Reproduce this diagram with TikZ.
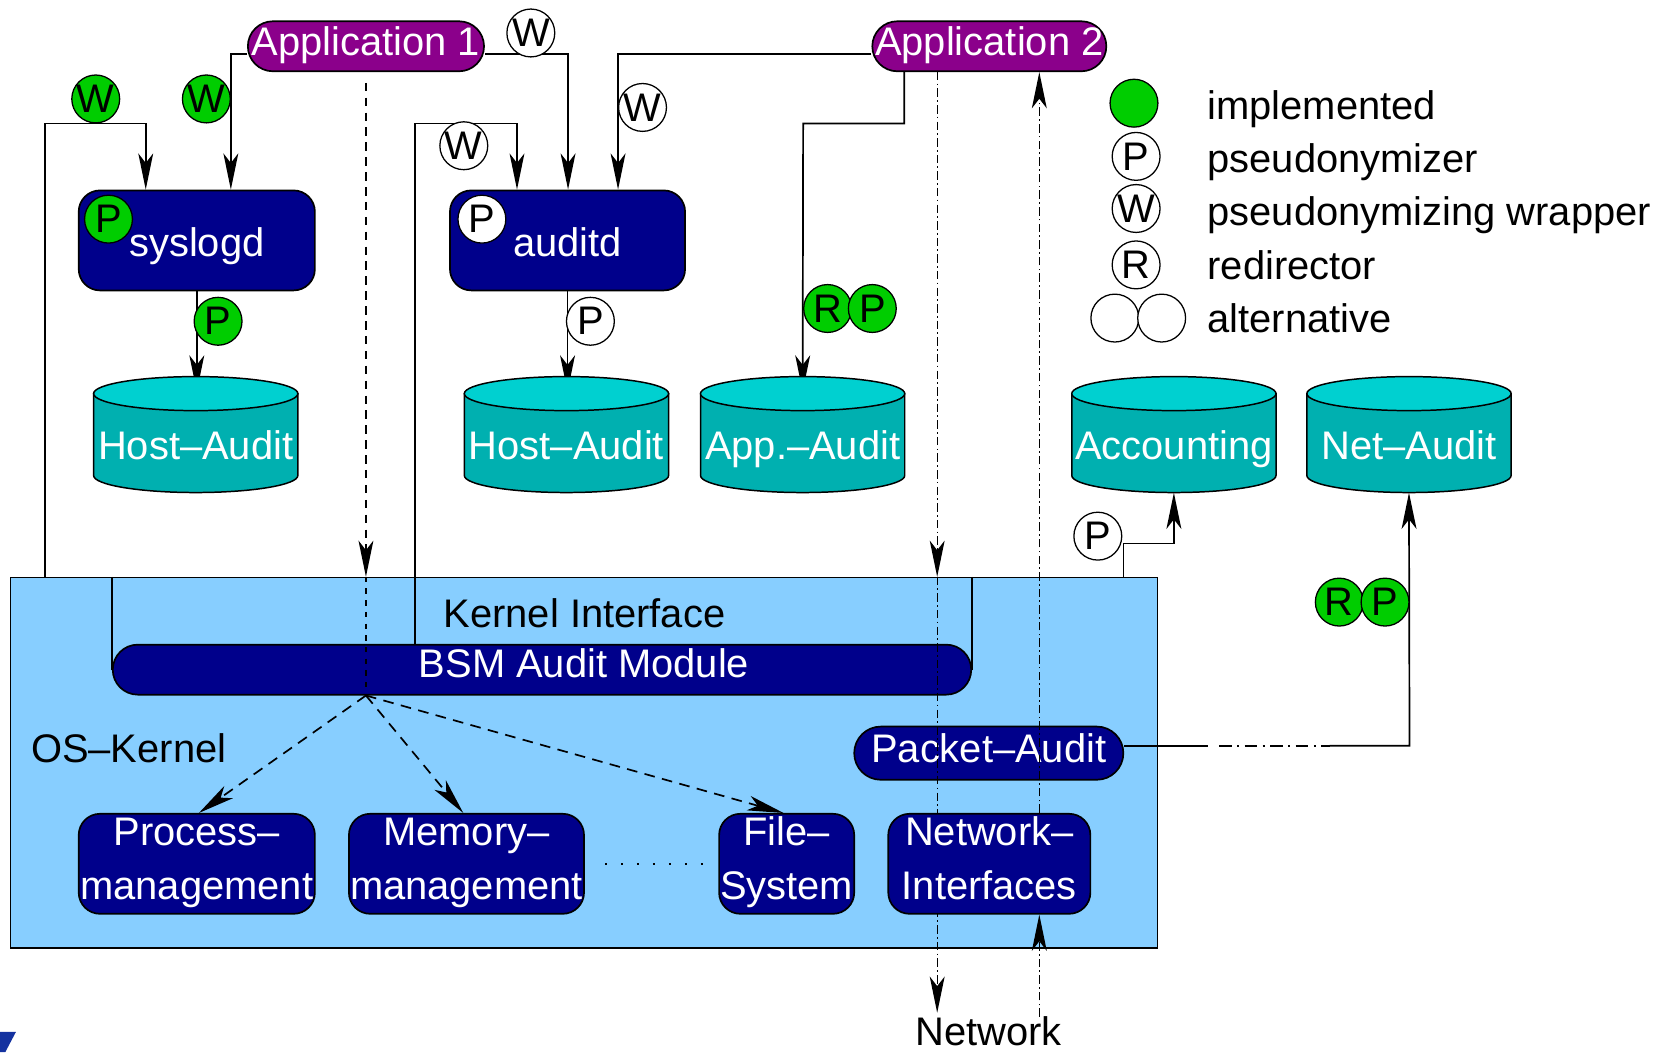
\documentclass[tikz,border=0pt]{standalone}
\usepackage{fontspec}
\setmainfont{Liberation Sans}
\usetikzlibrary{arrows.meta}
\pgfdeclarelayer{background}
\pgfsetlayers{background,main}

\definecolor{appviolet}{RGB}{139,0,139}
\definecolor{navy}{RGB}{0,0,139}
\definecolor{cyltop}{RGB}{0,208,208}
\definecolor{cylbody}{RGB}{0,176,176}
\definecolor{kernelblue}{RGB}{135,206,255}
\definecolor{okgreen}{RGB}{0,205,0}
\definecolor{logoblue}{RGB}{20,50,160}

\newcommand\figfont{\fontsize{37.5}{50}\selectfont}

% audit store drawn as a cylinder: name, centre x, label
\newcommand\drum[3]{%
  \path[draw=black, line width=1.4pt, fill=cylbody]
    (#2-96,370) -- (#2-96,447)
    arc[start angle=180, end angle=0, x radius=96, y radius=16]
    -- (#2+96,370) -- cycle;
  \path[draw=black, line width=1.4pt, fill=cyltop]
    (#2,370) ellipse [x radius=96, y radius=16];
  \node[inner sep=0, minimum width=192pt, minimum height=109pt] (#1) at (#2,408.5) {};
  \coordinate (#1-in) at (#2,368);
  \node[lbl] (#1-t) at (#2,432) {#3};
}

\begin{document}
\begin{tikzpicture}[x=1pt, y=-1pt,
  ln/.style={line width=1.6pt},
  flow/.style={ln, -{Stealth[length=34pt,width=14pt,inset=9pt]}},
  dashflow/.style={flow, dash pattern=on 8pt off 6pt},
  dashdot/.style={dash pattern=on 8pt off 3pt on 1.6pt off 3pt},
  box/.style={draw, line width=1.6pt, fill=navy, rounded corners=20pt, inner sep=0},
  pill/.style={draw, line width=1.6pt, rounded corners=23.5pt, inner sep=0},
  lbl/.style={text=white, font=\figfont, inner sep=0, anchor=base},
  txt/.style={text=black, font=\figfont, inner sep=0},
  badge/.style={circle, draw, line width=1.2pt, minimum size=45pt, inner sep=0, font=\figfont},
]
\useasboundingbox (0,0) rectangle (1568,989);

% ---------- OS kernel frame ----------
\begin{pgfonlayer}{background}
  \node[draw, line width=1.6pt, fill=kernelblue, minimum width=1078pt,
        minimum height=348pt, inner sep=0] (kbox) at (549,717) {};
\end{pgfonlayer}

% ---------- applications ----------
\node[pill, fill=appviolet, minimum width=222pt, minimum height=47pt] (app1) at (344,43.5) {};
\node[lbl] (app1-t) at (344,52) {Application 1};
\node[pill, fill=appviolet, minimum width=220pt, minimum height=47pt] (app2) at (930,43.5) {};
\node[lbl] (app2-t) at (930,52) {Application 2};

% ---------- daemons ----------
\node[box, minimum width=222pt, minimum height=94pt] (sys) at (185,226) {};
\node[lbl] (sys-t) at (185,241) {syslogd};
\node[box, minimum width=221pt, minimum height=94pt] (aud) at (533.5,226) {};
\node[lbl] (aud-t) at (533.5,241) {auditd};

% ---------- audit stores ----------
\drum{ha1}{184}{Host–Audit}
\drum{ha2}{532.5}{Host–Audit}
\drum{appaud}{754.5}{App.–Audit}
\drum{acc}{1103.5}{Accounting}
\drum{net}{1324.5}{Net–Audit}

% ---------- kernel parts ----------
\node[txt, anchor=base] (kif) at (549.5,590) {Kernel Interface};
\node[pill, fill=navy, minimum width=807pt, minimum height=47pt] (bsm) at (509.5,629.5) {};
\node[lbl] (bsm-t) at (549,637) {BSM Audit Module};
\node[txt, anchor=base] (osk) at (121,717) {OS–Kernel};
\node[pill, fill=navy, minimum width=253pt, minimum height=50pt, rounded corners=25pt] (pa) at (929.5,708) {};
\node[lbl] (pa-t) at (929.5,717) {Packet–Audit};

\node[box, minimum width=222pt, minimum height=94pt] (proc) at (185,812) {};
\node[lbl] (proc-t1) at (185,795) {Process–};
\node[lbl] (proc-t2) at (185,846) {management};
\node[box, minimum width=221pt, minimum height=94pt] (mem) at (438.5,812) {};
\node[lbl] (mem-t1) at (438.5,795) {Memory–};
\node[lbl] (mem-t2) at (438.5,846) {management};
\node[box, minimum width=127pt, minimum height=94pt] (file) at (739.5,812) {};
\node[lbl] (file-t1) at (739.5,795) {File–};
\node[lbl] (file-t2) at (739.5,846) {System};

\node[txt, anchor=base] (netw) at (929.5,983) {Network};

% ---------- bend points ----------
\coordinate (b1) at (42,116);
\coordinate (b2) at (137,116);
\coordinate (b3) at (217,51);
\coordinate (b5) at (534,51);
\coordinate (b6) at (390,116);
\coordinate (b7) at (486,116);
\coordinate (b8) at (581,51);
\coordinate (b9) at (850,116);
\coordinate (b10) at (755,116);
\coordinate (ac) at (1056,511);
\coordinate (nb) at (1325,701);
\coordinate (m1) at (1136,701);
\coordinate (m2) at (1146,701);
\coordinate (m3) at (1250,701);
\coordinate (dn) at (881,67.5);
\coordinate (dnb) at (881,952);
\coordinate (up) at (977,956);

% ---------- solid record flows ----------
\begin{pgfonlayer}{background}
  \draw[ln] (bsm.west |- kbox.north) -- (bsm.west);
  \draw[ln] (bsm.east |- kbox.north) -- (bsm.east);
  \draw[flow] (kbox.north -| b1) -- (b1) -- (b2) -- (b2 |- sys.north);
  \draw[flow] (b3 -| app1.west) -- (b3) -- (b3 |- sys.north);
  \draw[flow] (b5 -| app1.east) -- (b5) -- (b5 |- aud.north);
  \draw[flow] (bsm.north -| b6) -- (b6) -- (b7) -- (b7 |- aud.north);
  \draw[flow] (b8 -| app2.west) -- (b8) -- (b8 |- aud.north);
  \draw[flow] (app2.south -| b9) -- (b9) -- (b10) -- (appaud-in);
  \draw[flow] (sys.south) -- (sys.south |- ha1-in);
  \draw[flow] (aud.south) -- (aud.south |- ha2-in);
  \draw[flow] (kbox.north -| ac) -- (ac) -- (ac -| acc.south) -- (acc.south);
  \draw[ln] (nb -| pa.east) -- (m1);
  \draw[ln, dash pattern=on 12pt off 5pt on 2pt off 5pt] (m2) -- (m3);
  \draw[flow] (m3) -- (nb) -- (net.south);
\end{pgfonlayer}

% ---------- kernel calls ----------
\draw[dashflow, shorten <=10pt] (app1.south) -- (app1.south |- kbox.north);
\draw[line width=1.2pt, dash pattern=on 5pt off 6pt] (app1.south |- kbox.north) -- (app1.south |- bsm.south);
\coordinate (fan) at (app1.south |- bsm.south);
\draw[flow, dash pattern=on 10pt off 7pt] (fan) -- ([xshift=2pt]proc.north);
\draw[flow, dash pattern=on 10pt off 7pt] (fan) -- ([xshift=-3pt]mem.north);
\draw[flow, dash pattern=on 10pt off 7pt] (fan) -- ([xshift=-3pt]file.north);
\draw[ln, dash pattern=on 2pt off 13pt] ([xshift=19pt]mem.east) -- ([xshift=-14pt]file.west);

% ---------- outgoing network traffic (runs behind the interfaces box) ----------
\draw[flow, dashdot, line width=1.3pt] (dn) -- (dn |- kbox.north);
\draw[flow, dashdot, line width=1.3pt] (dn |- kbox.north) -- (dnb);

\node[box, minimum width=190pt, minimum height=94pt] (nif) at (930,812) {};
\node[lbl] (nif-t1) at (930,795) {Network–};
\node[lbl] (nif-t2) at (930,846) {Interfaces};

% ---------- incoming network traffic ----------
\draw[flow, dashdot, line width=1.3pt] (up) -- (up |- nif.south);
\draw[flow, dashdot, line width=1.3pt] (up |- nif.north) -- (up |- app2.south);

% ---------- pseudonymizing components ----------
\node[badge, fill=okgreen] (w1) at (90,93) {W};
\node[badge, fill=okgreen] (w2) at (194,93) {W};
\node[badge, fill=white] (w3) at (499,31) {W};
\node[badge, fill=white] (w4) at (436,137) {W};
\node[badge, fill=white] (w5) at (604,101) {W};
\node[badge, fill=okgreen] (p1) at (102,206) {P};
\node[badge, fill=white] (p2) at (453,206) {P};
\node[badge, fill=okgreen] (p3) at (205,302) {P};
\node[badge, fill=white] (p4) at (555,302) {P};
\node[badge, fill=okgreen] (r1) at (778,290) {R};
\node[badge, fill=okgreen] (p5) at (820,290) {P};
\node[badge, fill=white] (p6) at (1032,504) {P};
\node[badge, fill=okgreen] (r2) at (1259,566) {R};
\node[badge, fill=okgreen] (p7) at (1302,566) {P};

% ---------- legend ----------
\node[badge, fill=okgreen] (lg-c1) at (1066,97) {};
\node[badge, fill=white] (lg-c2) at (1068,147) {P};
\node[badge, fill=white] (lg-c3) at (1068,196) {W};
\node[badge, fill=white] (lg-c4) at (1068,249) {R};
\node[badge, fill=white] (lg-c5) at (1048,299) {};
\node[badge, fill=white] (lg-c6) at (1092,299) {};
\node[txt, anchor=base west] (lg-t1) at (1135,112) {implemented};
\node[txt, anchor=base west] (lg-t2) at (1135,162) {pseudonymizer};
\node[txt, anchor=base west] (lg-t3) at (1135,212) {pseudonymizing wrapper};
\node[txt, anchor=base west] (lg-t4) at (1135,263) {redirector};
\node[txt, anchor=base west] (lg-t5) at (1135,313) {alternative};

% ---------- corner mark ----------
\fill[logoblue] (0,970) -- (15,970) -- (5,989) -- (0,989) -- cycle;
\end{tikzpicture}
\end{document}
